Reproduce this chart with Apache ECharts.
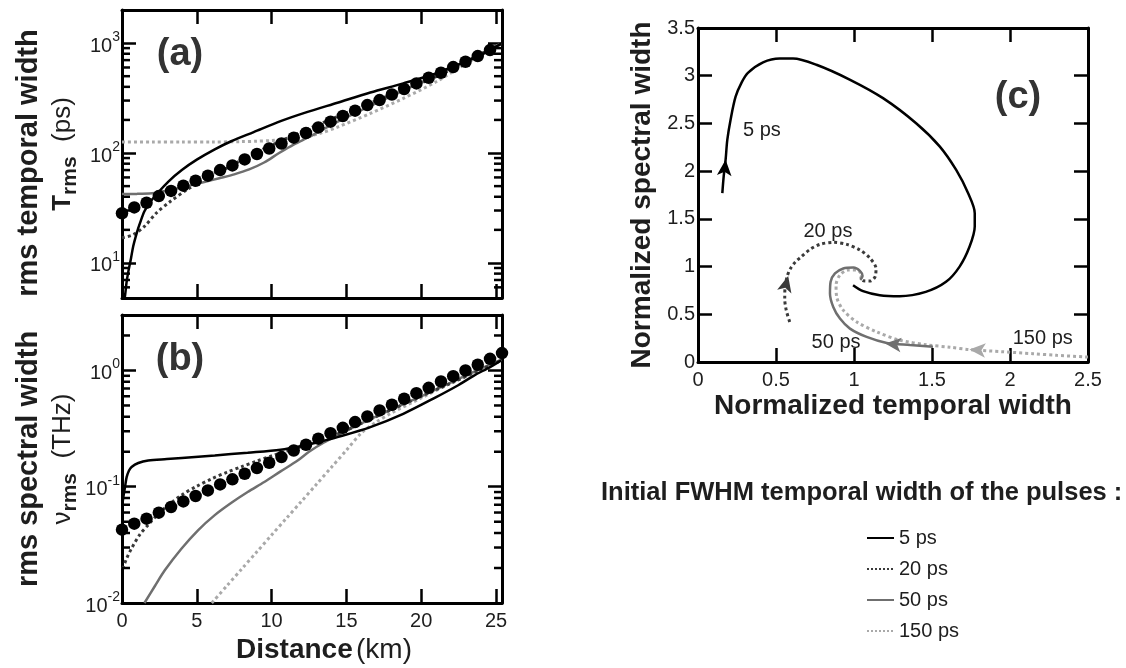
<!DOCTYPE html>
<html><head><meta charset="utf-8">
<script src="https://cdn.jsdelivr.net/npm/echarts@6/dist/echarts.min.js"></script>
<style>html,body{margin:0;padding:0;background:#fff}#chart{width:1126px;height:668px}</style>
</head><body><div id="chart"></div>
<script>
// ---------------- DATA ----------------
// Series names (initial FWHM pulse widths)
const seriesNames = ['5 ps', '20 ps', '50 ps', '150 ps'];

// Panel (a): rms temporal width (ps) vs distance (km)
const a5x   = [0.15, 0.2, 0.3, 0.42, 0.6, 0.75, 1.0, 1.2, 1.5, 1.9, 2.4, 3.1, 4.0, 5.0, 6.2, 7.3, 8.8, 10.6, 12.2, 14.4, 16.6, 18.8, 21.0, 22.1, 23.0, 24.0, 25.35];
const a5y   = [4.8, 5.0, 6.6, 8.3, 11, 14.2, 19, 23, 29.5, 36, 43.5, 55, 70, 87, 108, 128, 155, 195, 232, 287, 355, 430, 529, 610, 680, 780, 990];
const a20x  = [0, 0.75, 1.5, 2.3, 3.2, 4.3, 5.2, 6.1, 7.0, 7.9, 9.0, 10.0, 12.2, 15, 18, 21, 23, 25.35];
const a20y  = [16.9, 18.1, 21.5, 28.5, 36, 46, 54.5, 65, 73, 85, 102, 118, 160, 232, 340, 495, 680, 990];
const a50x  = [0, 1, 2, 2.5, 3.5, 4.5, 5.5, 6.5, 7.5, 8.5, 9.5, 10.5, 11.5, 12.5, 14, 16, 18, 20, 22, 24, 25.35];
const a50y  = [42.4, 42.5, 43, 44, 47, 50.5, 54.5, 59, 64, 71, 82, 100, 120, 140, 180, 245, 330, 440, 590, 790, 990];
const a150x = [0, 2, 4, 6, 8, 9, 10, 11, 12.2, 13.3, 14.4, 16.6, 18.8, 21, 23.2, 25.35];
const a150y = [126, 126, 126, 126, 127, 128, 130, 134, 140, 152, 172, 229, 314, 445, 676, 990];

// Measured points (filled circles), shared distances
const dotDistance = [0, 0.82, 1.64, 2.46, 3.28, 4.1, 4.92, 5.74, 6.56, 7.38, 8.2, 9.02, 9.84, 10.66, 11.48, 12.3, 13.12, 13.94, 14.76, 15.58, 16.4, 17.22, 18.04, 18.86, 19.68, 20.5, 21.32, 22.14, 22.96, 23.78, 24.6, 25.4];
const dotTemporal = [28.3, 32, 35.3, 40.6, 45.2, 50.5, 56, 62.2, 70, 77.2, 87.5, 98, 110, 122, 138, 152, 171, 193, 217, 243, 273, 303, 341, 382, 430, 484, 537, 605, 676, 762, 864];
const dotSpectral = [0.0427, 0.0481, 0.0531, 0.0598, 0.0669, 0.0748, 0.0832, 0.0929, 0.1047, 0.1157, 0.1294, 0.1446, 0.1607, 0.1799, 0.205, 0.2297, 0.259, 0.289, 0.321, 0.36, 0.402, 0.453, 0.507, 0.571, 0.638, 0.709, 0.804, 0.894, 1.0, 1.12, 1.26, 1.41];

// Panel (b): rms spectral width (THz) vs distance (km)
const b5x   = [0.05, 0.09, 0.2, 0.31, 0.47, 0.64, 1.09, 1.75, 3, 4, 6.2, 8.4, 10.6, 12.2, 13.3, 14.4, 16.6, 18.8, 21, 22.5, 23.5, 24.6, 25.35];
const b5y   = [0.075, 0.0815, 0.099, 0.121, 0.138, 0.148, 0.16, 0.168, 0.173, 0.177, 0.186, 0.196, 0.208, 0.227, 0.245, 0.267, 0.326, 0.424, 0.59, 0.75, 0.9, 1.07, 1.22];
const b20x  = [0.05, 0.3, 0.64, 1.2, 1.75, 2.4, 3.0, 4.0, 5.0, 6.0, 7.0, 8.0, 9.0, 10.0, 11.0, 12.3, 14, 16, 18, 20, 22, 24, 25.35];
const b20y  = [0.0197, 0.024, 0.0295, 0.039, 0.047, 0.058, 0.068, 0.085, 0.101, 0.117, 0.133, 0.149, 0.166, 0.184, 0.203, 0.228, 0.27, 0.35, 0.46, 0.6, 0.78, 1.02, 1.22];
const b50x  = [1.5, 2.2, 2.86, 3.97, 5.08, 6.18, 7.29, 8.4, 9.51, 10.6, 11.74, 12.5, 13.5, 14.5, 16, 18, 20, 22, 24, 25.35];
const b50y  = [0.01, 0.014, 0.0191, 0.0293, 0.0422, 0.0567, 0.0724, 0.09, 0.1097, 0.1355, 0.168, 0.2, 0.24, 0.28, 0.35, 0.46, 0.6, 0.79, 1.04, 1.24];
const b150x = [6.0, 7.0, 8.0, 9.0, 10.0, 11.0, 12.0, 13.0, 14.0, 15.0, 16.0, 17.0, 18.0, 20, 22, 24, 25.35];
const b150y = [0.01, 0.014, 0.0196, 0.0274, 0.0384, 0.0537, 0.075, 0.105, 0.147, 0.206, 0.29, 0.36, 0.43, 0.58, 0.78, 1.02, 1.22];

// Panel (c): normalized spectral width vs normalized temporal width
const c5x   = [0.156, 0.165, 0.177, 0.188, 0.21, 0.241, 0.28, 0.32, 0.417, 0.524, 0.609, 0.759, 0.972, 1.186, 1.4, 1.549, 1.656, 1.731, 1.774, 1.774, 1.741, 1.677, 1.59, 1.46, 1.293, 1.165, 1.058, 0.994];
const c5y   = [1.77, 1.95, 2.12, 2.33, 2.55, 2.78, 2.93, 3.03, 3.14, 3.18, 3.18, 3.115, 2.96, 2.765, 2.5, 2.26, 2.01, 1.77, 1.56, 1.42, 1.21, 1.0, 0.84, 0.735, 0.69, 0.70, 0.742, 0.805];
const c20x  = [0.588, 0.566, 0.556, 0.558, 0.572, 0.593, 0.625, 0.66, 0.718, 0.782, 0.867, 0.953, 1.038, 1.103, 1.141, 1.135, 1.103, 1.06, 1.038];
const c20y  = [0.42, 0.54, 0.66, 0.78, 0.9, 0.98, 1.05, 1.1, 1.18, 1.233, 1.254, 1.233, 1.173, 1.086, 0.98, 0.893, 0.848, 0.851, 0.876];
const c50x  = [1.506, 1.359, 1.21, 1.081, 0.974, 0.91, 0.867, 0.846, 0.85, 0.878, 0.931, 0.996, 1.038, 1.055, 1.04];
const c50y  = [0.16, 0.178, 0.2, 0.263, 0.35, 0.455, 0.577, 0.718, 0.84, 0.928, 0.98, 0.99, 0.955, 0.9, 0.86];
const c150x = [2.5, 2.3, 2.147, 1.95, 1.741, 1.615, 1.466, 1.295, 1.146, 1.018, 0.931, 0.889, 0.885, 0.91, 0.964, 1.017, 1.049, 1.038];
const c150y = [0.052, 0.07, 0.087, 0.108, 0.13, 0.155, 0.18, 0.228, 0.315, 0.42, 0.543, 0.683, 0.806, 0.911, 0.964, 0.964, 0.911, 0.859];

// Direction arrows on the (c) curves (data coordinates)
const arrowX = [0.177, 0.578, 1.2, 1.74];
const arrowY = [2.12, 0.9, 0.195, 0.132];
// Curve labels in (c)
const cLabelText = ['5 ps', '20 ps', '50 ps', '150 ps'];
const cLabelX = [0.41, 0.833, 0.885, 2.21];
const cLabelY = [2.43, 1.363, 0.2, 0.25];

// Axis ranges / tick values
const distMax = 25.4;
const aRange = [4.8, 2000];
const bRange = [0.01, 3];
const aMinorTicks = [6, 7, 8, 9, 20, 30, 40, 50, 60, 70, 80, 90, 200, 300, 400, 500, 600, 700, 800, 900];
const bMinorTicks = [0.02, 0.03, 0.04, 0.05, 0.06, 0.07, 0.08, 0.09, 0.2, 0.3, 0.4, 0.5, 0.6, 0.7, 0.8, 0.9, 2];

// ---------------- STYLE ----------------
const FONT = 'Liberation Sans, Arial, sans-serif';
const TXT = '#1e1e1e';
const lineColors = ['#000000', '#3a3a3a', '#6f6f6f', '#a9a9a9'];
const lineTypes = ['solid', 'dotted', 'solid', 'dotted'];
const lineWidths = [2.5, 3, 2.5, 3];
const arrowRot = [-5, -14, 84, 86];
const MAJOR = 14, MINOR = 8, BORDER = 3;

const zip = (xs, ys) => xs.map((x, i) => [x, ys[i]]);

function powLabel(v) {
  const e = Math.round(Math.log10(v));
  if (Math.abs(v / Math.pow(10, e) - 1) > 1e-6) return '';
  return '{b|10}{s|' + e + '}';
}
const powRich = {
  b: {fontSize: 20, fontFamily: FONT, color: TXT, padding: [6, 0, 0, 0]},
  s: {fontSize: 14, fontFamily: FONT, color: TXT, padding: [0, 0, 12, 0]}
};

const axisLineStyle = {show: true, onZero: false, lineStyle: {color: '#000', width: BORDER}};
const tickStyle = {show: true, inside: true, length: MAJOR, lineStyle: {color: '#000', width: 2.5}};

function xAx(grid, pos, max, interval, labels, extra) {
  return Object.assign({
    type: 'value', gridIndex: grid, position: pos, min: 0, max: max, interval: interval,
    axisLine: axisLineStyle, axisTick: tickStyle, splitLine: {show: false},
    axisLabel: labels ? {show: true, margin: 8, fontSize: 20, fontFamily: FONT, color: TXT,
      formatter: v => (Math.abs(v / interval - Math.round(v / interval)) < 1e-6 ? String(+v.toFixed(2)) : '')}
      : {show: false}
  }, extra || {});
}
function logAx(grid, pos, range, labels, extra) {
  return Object.assign({
    type: 'log', logBase: 10, gridIndex: grid, position: pos, min: range[0], max: range[1],
    axisLine: axisLineStyle, axisTick: tickStyle, splitLine: {show: false},
    axisLabel: labels ? {show: true, margin: 2, formatter: powLabel, rich: powRich} : {show: false}
  }, extra || {});
}
function linAxY(grid, pos, max, interval, labels, extra) {
  return Object.assign({
    type: 'value', gridIndex: grid, position: pos, min: 0, max: max, interval: interval,
    axisLine: axisLineStyle, axisTick: tickStyle, splitLine: {show: false},
    axisLabel: labels ? {show: true, margin: 3, fontSize: 20, fontFamily: FONT, color: TXT} : {show: false}
  }, extra || {});
}

function minorTicks(xi, yi, xLo, xHi, vals) {
  return {
    type: 'custom', xAxisIndex: xi, yAxisIndex: yi, silent: true, clip: false, z: 5,
    data: vals.map(v => [xLo, v]),
    renderItem: (params, api) => {
      const v = api.value(1);
      const pL = api.coord([xLo, v]);
      const pR = api.coord([xHi, v]);
      const st = {stroke: '#000', lineWidth: 2.5};
      return {type: 'group', children: [
        {type: 'line', shape: {x1: pL[0], y1: pL[1], x2: pL[0] + MINOR, y2: pL[1]}, style: st},
        {type: 'line', shape: {x1: pR[0], y1: pR[1], x2: pR[0] - MINOR, y2: pR[1]}, style: st}
      ]};
    }
  };
}

function curve(i, xi, yi, pts) {
  return {
    name: seriesNames[i], type: 'line', xAxisIndex: xi, yAxisIndex: yi, data: pts,
    symbol: 'none', smooth: 0.3, z: 3,
    lineStyle: {color: lineColors[i], width: lineWidths[i], type: lineTypes[i], opacity: 1},
    itemStyle: {color: lineColors[i]}
  };
}
function dots(xi, yi, ys) {
  return {
    name: 'measured', type: 'scatter', xAxisIndex: xi, yAxisIndex: yi, clip: false, z: 4,
    data: ys.map((y, i) => [dotDistance[i], y]), symbol: 'circle', symbolSize: 12.5,
    itemStyle: {color: '#000', opacity: 1, borderWidth: 0}
  };
}

const series = [
  curve(3, 0, 0, zip(a150x, a150y)), curve(2, 0, 0, zip(a50x, a50y)),
  curve(1, 0, 0, zip(a20x, a20y)), curve(0, 0, 0, zip(a5x, a5y)),
  dots(0, 0, dotTemporal), minorTicks(0, 0, 0, distMax, aMinorTicks),
  curve(3, 2, 2, zip(b150x, b150y)), curve(2, 2, 2, zip(b50x, b50y)),
  curve(1, 2, 2, zip(b20x, b20y)), curve(0, 2, 2, zip(b5x, b5y)),
  dots(2, 2, dotSpectral), minorTicks(2, 2, 0, distMax, bMinorTicks),
  curve(3, 4, 4, zip(c150x, c150y)), curve(2, 4, 4, zip(c50x, c50y)),
  curve(1, 4, 4, zip(c20x, c20y)), curve(0, 4, 4, zip(c5x, c5y)),
  {
    name: 'arrows', type: 'scatter', xAxisIndex: 4, yAxisIndex: 4, z: 6, clip: false,
    data: arrowX.map((x, i) => ({value: [x, arrowY[i]], symbolRotate: arrowRot[i], itemStyle: {color: lineColors[i], opacity: 1}})),
    symbol: 'arrow', symbolSize: [11, 16], itemStyle: {opacity: 1}
  },
  {
    name: 'labels', type: 'scatter', xAxisIndex: 4, yAxisIndex: 4, z: 7, clip: false,
    data: cLabelX.map((x, i) => ({value: [x, cLabelY[i]], name: cLabelText[i]})),
    symbolSize: 1, itemStyle: {color: 'rgba(0,0,0,0)', opacity: 1},
    label: {show: true, position: 'inside', formatter: p => p.name, fontSize: 20, fontFamily: FONT, color: TXT, opacity: 1}
  }
];

const option = {
  backgroundColor: '#fff',
  animation: false,
  textStyle: {fontFamily: FONT},
  title: {
    text: 'Initial FWHM temporal width of the pulses :', left: 596, top: 475,
    textStyle: {fontSize: 25.5, fontWeight: 'bold', color: TXT, fontFamily: FONT}
  },
  legend: {
    data: seriesNames, orient: 'vertical', left: 866, top: 528, padding: 0, itemWidth: 27, itemHeight: 20, itemGap: 11,
    selectedMode: false, itemStyle: {opacity: 0},
    textStyle: {fontSize: 20, color: TXT, fontFamily: FONT}
  },
  grid: [
    {left: 122, top: 10, width: 380, height: 288, containLabel: false, outerBoundsMode: 'none'},
    {left: 122, top: 315, width: 380, height: 288, containLabel: false, outerBoundsMode: 'none'},
    {left: 698, top: 28, width: 390, height: 334, containLabel: false, outerBoundsMode: 'none'}
  ],
  xAxis: [
    xAx(0, 'bottom', distMax, 5, false),
    xAx(0, 'top', distMax, 5, false),
    xAx(1, 'bottom', distMax, 5, true, {
      name: '{b|Distance} {n|(km)}', nameLocation: 'middle', nameGap: 33, nameMoveOverlap: false,
      nameTextStyle: {rich: {b: {fontSize: 28, fontWeight: 'bold', color: TXT, fontFamily: FONT, padding: [0, 0, 0, 24]}, n: {fontSize: 28, color: TXT, fontFamily: FONT}}}
    }),
    xAx(1, 'top', distMax, 5, false),
    xAx(2, 'bottom', 2.5, 0.5, true, {
      name: 'Normalized temporal width', nameLocation: 'middle', nameGap: 30, nameMoveOverlap: false,
      nameTextStyle: {fontSize: 28, fontWeight: 'bold', color: TXT, fontFamily: FONT}
    }),
    xAx(2, 'top', 2.5, 0.5, false)
  ],
  yAxis: [
    logAx(0, 'left', aRange, true, {
      name: '{t|rms temporal width}\n{T|T}{sub|rms}{n|  (ps)}', nameLocation: 'middle', nameRotate: 90, nameGap: 44, nameMoveOverlap: false,
      nameTextStyle: {rich: {
        t: {fontSize: 29, fontWeight: 'bold', color: TXT, fontFamily: FONT, lineHeight: 38, padding: [0, 18, 0, 0]},
        T: {fontSize: 26, fontWeight: 'bold', color: TXT, fontFamily: FONT, lineHeight: 30},
        sub: {fontSize: 21, fontWeight: 'bold', color: TXT, fontFamily: FONT, lineHeight: 22, padding: [15, 0, 0, 0]},
        n: {fontSize: 26, color: TXT, fontFamily: FONT, lineHeight: 30}
      }}
    }),
    logAx(0, 'right', aRange, false),
    logAx(1, 'left', bRange, true, {
      name: '{t|rms spectral width}\n{T|\u03bd}{sub|rms}{n|  (THz)}', nameLocation: 'middle', nameRotate: 90, nameGap: 44, nameMoveOverlap: false,
      nameTextStyle: {rich: {
        t: {fontSize: 29, fontWeight: 'bold', color: TXT, fontFamily: FONT, lineHeight: 38},
        T: {fontSize: 26, color: TXT, fontFamily: FONT, lineHeight: 30},
        sub: {fontSize: 21, fontWeight: 'bold', color: TXT, fontFamily: FONT, lineHeight: 22, padding: [15, 0, 0, 0]},
        n: {fontSize: 26, color: TXT, fontFamily: FONT, lineHeight: 30}
      }}
    }),
    logAx(1, 'right', bRange, false),
    linAxY(2, 'left', 3.5, 0.5, true, {
      name: 'Normalized spectral width', nameLocation: 'middle', nameRotate: 90, nameGap: 42, nameMoveOverlap: false,
      nameTextStyle: {fontSize: 28, fontWeight: 'bold', color: TXT, fontFamily: FONT}
    }),
    linAxY(2, 'right', 3.5, 0.5, false)
  ],
  graphic: [
    {type: 'text', x: 180, y: 55, style: {text: '(a)', font: 'bold 38px ' + FONT, fill: '#333', textAlign: 'center', textVerticalAlign: 'middle', align: 'center', verticalAlign: 'middle'}},
    {type: 'text', x: 180, y: 360, style: {text: '(b)', font: 'bold 38px ' + FONT, fill: '#333', textAlign: 'center', textVerticalAlign: 'middle', align: 'center', verticalAlign: 'middle'}},
    {type: 'text', x: 1018, y: 98, style: {text: '(c)', font: 'bold 38px ' + FONT, fill: '#333', textAlign: 'center', textVerticalAlign: 'middle', align: 'center', verticalAlign: 'middle'}}
  ],
  series: series
};

const chart = echarts.init(document.getElementById('chart'), null, {renderer: 'canvas'});
chart.setOption(option);
</script>
</body></html>
